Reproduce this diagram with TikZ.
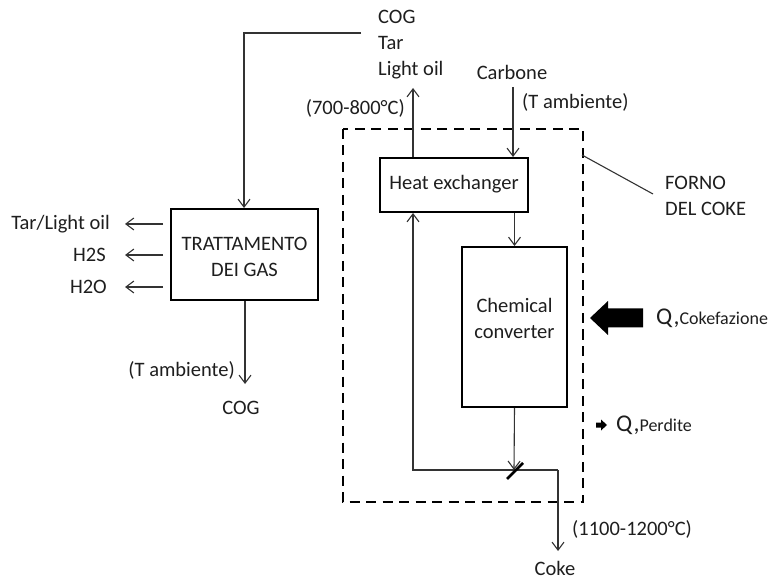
\documentclass[tikz,border=0pt]{standalone}
\usepackage{fontspec}
\setmainfont{Carlito}
\usetikzlibrary{arrows.meta}
\definecolor{txt}{HTML}{1E1E1E}
\definecolor{ln}{HTML}{333333}
\begin{document}
\begin{tikzpicture}[x=1pt,y=-1pt,
  every node/.style={font=\fontsize{20.5}{26}\selectfont, text=txt, inner sep=0pt},
  lbl/.style={align=left},
  box/.style={draw=black, line width=2pt, inner sep=0pt},
  flow/.style={draw=ln, line width=1.1pt, -{Straight Barb[length=8pt,width=12pt,line width=1.1pt]}},
  plain/.style={draw=ln, line width=1.1pt},
  qlbl/.style={anchor=west, font=\fontsize{24}{26}\selectfont}]
\useasboundingbox (0,0) rectangle (777,580);
% dashed furnace boundary
\draw[black, line width=2.6pt, dash pattern=on 10pt off 6.5pt] (343,129) rectangle (583,502);
% boxes
\node[box, minimum width=148pt, minimum height=54pt] (he) at (454,185) {};
\node at (454,184) {Heat exchanger};
\node[box, minimum width=105pt, minimum height=160pt] (cc) at (514.5,327) {};
\node[align=center] (cct) at (514.5,318) {Chemical\\converter};
\node[box, minimum width=147pt, minimum height=91pt] (tg) at (244.5,254.5) {};
\node[align=center] (tgt) at (244.5,257) {TRATTAMENTO\\DEI GAS};
% top outputs
\node[lbl, anchor=west] (cog) at (378,17) {COG};
\node[lbl, anchor=west] (tar) at (378,43) {Tar};
\node[lbl, anchor=west] (lo) at (378,70) {Light oil};
\node (carb) at (512,72) {Carbone};
\node[anchor=west] (tamb1) at (522,102) {(T ambiente)};
\node[anchor=east] (t700) at (405,108) {(700-800°C)};
\coordinate (hetop) at (413,88);
\coordinate (carbtop) at (513,87);
\draw[flow] (he.north -| hetop) -- (hetop);
\draw[flow] (carbtop) -- (carbtop |- he.north);
% COG line to gas treatment
\coordinate (c1) at (361,33);
\coordinate (c2) at (244,33);
\draw[flow] (c1) -- (c2) -- (c2 |- tg.north);
% left outputs
\node[anchor=east] (o1) at (110,224) {Tar/Light oil};
\node[anchor=east] (o2) at (106,255) {H2S};
\node[anchor=east] (o3) at (107,287) {H2O};
\coordinate (a1) at (125,224);
\coordinate (a2) at (125,255);
\coordinate (a3) at (125,287);
\draw[flow] (tg.west |- a1) ++(-7,0) -- (a1);
\draw[flow] (tg.west |- a2) ++(-7,0) -- (a2);
\draw[flow] (tg.west |- a3) ++(-7,0) -- (a3);
% gas treatment down
\coordinate (cogb) at (245,384);
\draw[flow] (cogb |- tg.south) -- (cogb);
\node[anchor=east] (tamb2) at (235,370) {(T ambiente)};
\node (cog2) at (241,408) {COG};
% HE to CC
\draw[flow] (he.south -| cc) -- (cc.north);
% CC down to junction
\coordinate (j) at (514,470);
\coordinate (jl) at (413,470);
\coordinate (jr) at (558,470);
\coordinate (cokeend) at (558,551);
\draw[flow] (cc.south) -- (j);
\draw[plain] (j) -- (jr);
\draw[flow] (jr) -- (cokeend);
\draw[flow] (j) -- (jl) -- (jl |- he.south);
\draw[black, line width=2.8pt] (507,479) -- (523,463);
\node (coke) at (555,568) {Coke};
\node[anchor=west] (t1100) at (572,529) {(1100-1200°C)};
% Forno label
\coordinate (f1) at (582,155);
\coordinate (f2) at (653,194);
\draw[plain] (f1) -- (f2);
\node[anchor=west, align=left] (forno) at (665,196) {FORNO\\DEL COKE};
% heat arrows
\fill[black] (590,318) -- (608,301) -- (608,308.5) -- (643,308.5) -- (643,327.5) -- (608,327.5) -- (608,335) -- cycle;
\node[qlbl] (qc) at (656,318) {Q,{\fontsize{18}{20}\selectfont Cokefazione}};
\fill[black] (607,425) -- (601,419.5) -- (601,422.5) -- (596,422.5) -- (596,427.5) -- (601,427.5) -- (601,430.5) -- cycle;
\node[qlbl] (qp) at (616,425) {Q,{\fontsize{18}{20}\selectfont Perdite}};
\end{tikzpicture}
\end{document}
